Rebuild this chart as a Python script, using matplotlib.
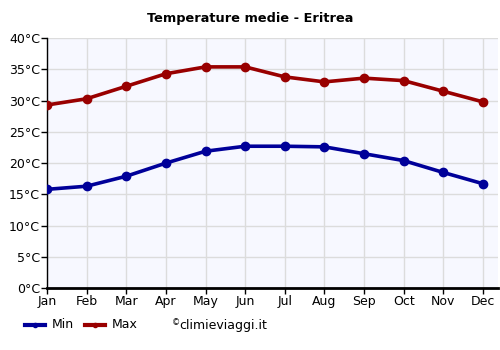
import matplotlib
matplotlib.use("Agg")
import matplotlib.pyplot as plt
from matplotlib.lines import Line2D

months = ["Jan", "Feb", "Mar", "Apr", "May", "Jun",
          "Jul", "Aug", "Sep", "Oct", "Nov", "Dec"]
t_min = [15.8, 16.3, 17.9, 20.0, 21.9, 22.7, 22.7, 22.6, 21.5, 20.4, 18.5, 16.7]
t_max = [29.3, 30.3, 32.3, 34.3, 35.4, 35.4, 33.8, 33.0, 33.6, 33.2, 31.5, 29.8]
y_ticks = [0, 5, 10, 15, 20, 25, 30, 35, 40]

c_min = "#000099"
c_max = "#990000"

fig = plt.figure(figsize=(5, 3.5), dpi=100)
ax = fig.add_axes([0.094, 0.177, 0.902, 0.714])
ax.set_facecolor("#f7f8ff")

x = list(range(len(months)))
ax.plot(x, t_min, color=c_min, lw=2.6, marker="o", ms=6, zorder=3)
ax.plot(x, t_max, color=c_max, lw=2.6, marker="o", ms=6, zorder=3)

ax.set_xlim(0, 11.38)
ax.set_ylim(0, 40)
ax.set_xticks(x)
ax.set_xticklabels(months)
ax.set_yticks(y_ticks)
ax.set_yticklabels(["%d°C" % v for v in y_ticks])
ax.grid(True, color="#dcdcdc", lw=1)
ax.set_axisbelow(True)

for s in ["top", "right"]:
    ax.spines[s].set_visible(False)
ax.spines["left"].set_color("black")
ax.spines["left"].set_linewidth(1)
ax.spines["bottom"].set_color("black")
ax.spines["bottom"].set_linewidth(2)
ax.tick_params(axis="both", labelsize=9, colors="black", length=4, width=1, pad=1)

fig.text(0.5, 0.947, "Temperature medie - Eritrea", ha="center", va="center",
         fontsize=9.3, fontweight="bold")

# legend row
y_leg = 1 - 325 / 350
for x0, col, lab in [(25, c_min, "Min"), (85, c_max, "Max")]:
    fig.add_artist(Line2D([x0 / 500, (x0 + 20) / 500], [y_leg, y_leg],
                          color=col, lw=3, transform=fig.transFigure))
    fig.add_artist(Line2D([(x0 + 10) / 500], [y_leg], color=col, marker="o", ms=3,
                          transform=fig.transFigure))
    fig.text((x0 + 27) / 500, y_leg, lab, ha="left", va="center", fontsize=9)
fig.text(172 / 500, y_leg + 0.006, "©", ha="left", va="center", fontsize=6)
fig.text(179 / 500, y_leg, "climieviaggi.it", ha="left", va="center", fontsize=9)

fig.savefig("out.png", dpi=100)
